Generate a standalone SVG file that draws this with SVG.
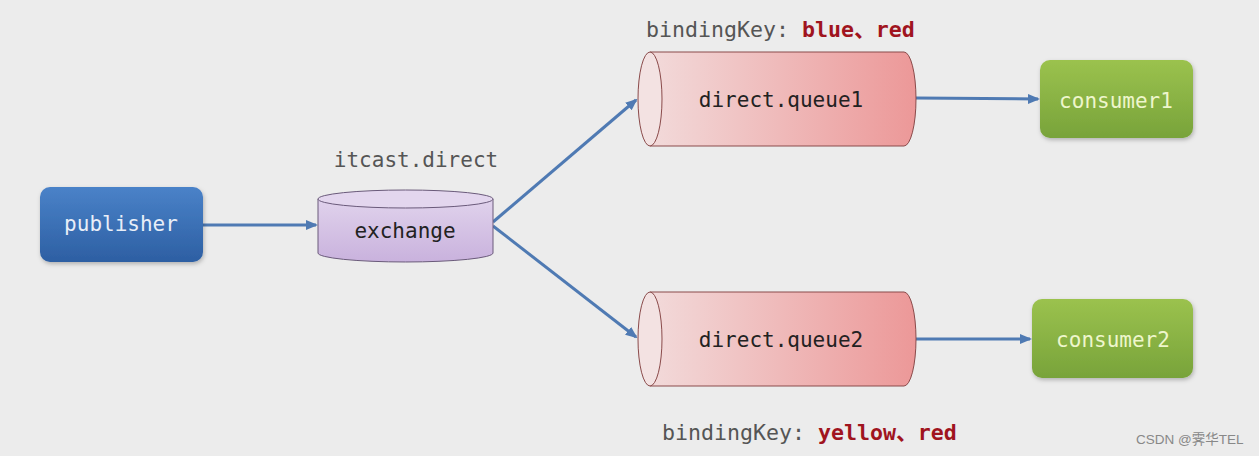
<svg xmlns="http://www.w3.org/2000/svg" width="1259" height="456" viewBox="0 0 1259 456">
<defs>
<linearGradient id="gBlue" x1="0" y1="0" x2="0" y2="1"><stop offset="0" stop-color="#4a82c8"/><stop offset="1" stop-color="#2d5fa3"/></linearGradient>
<linearGradient id="gGreen" x1="0" y1="0" x2="0" y2="1"><stop offset="0" stop-color="#9bc24e"/><stop offset="1" stop-color="#78a33a"/></linearGradient>
<linearGradient id="gPurple" x1="0" y1="0" x2="0" y2="1"><stop offset="0" stop-color="#e0d2ec"/><stop offset="1" stop-color="#c9b2dd"/></linearGradient>
<linearGradient id="gPink" x1="0" y1="0" x2="1" y2="0"><stop offset="0" stop-color="#f2dada"/><stop offset="1" stop-color="#ec9898"/></linearGradient>
<filter id="sh" x="-10%" y="-10%" width="125%" height="130%"><feDropShadow dx="1" dy="2" stdDeviation="2" flood-color="#000" flood-opacity="0.25"/></filter>
<marker id="arr" markerWidth="12" markerHeight="12" refX="10" refY="6" orient="auto" markerUnits="userSpaceOnUse"><path d="M0,1 L12,6 L0,11 Z" fill="#4f7ab3"/></marker>
<style>
.mono{font-family:"DejaVu Sans Mono","Liberation Mono",monospace;font-size:21px}
.bk{font-size:21.6px}
.lbl{fill:#555}
.key{fill:#a0141e;font-weight:bold}
.edge{stroke:#4f7ab3;stroke-width:3;fill:none;marker-end:url(#arr)}
</style>
</defs>
<rect width="1259" height="456" fill="#ececec"/>
<g id="connectors">
<line class="edge" x1="203" y1="225" x2="316" y2="225"/>
<line class="edge" x1="493" y1="222" x2="636" y2="100"/>
<line class="edge" x1="493" y1="226" x2="636" y2="337"/>
<line class="edge" x1="916" y1="98" x2="1038" y2="99"/>
<line class="edge" x1="916" y1="339" x2="1030" y2="339"/>
</g>
<g id="publisher">
<rect x="40" y="187" width="163" height="75" rx="10" fill="url(#gBlue)" filter="url(#sh)"/>
<text class="mono" x="121" y="231" text-anchor="middle" fill="#e8eef8">publisher</text>
</g>
<g id="exchange">
<path d="M318,199 L318,253 A87.5,9 0 0 0 493,253 L493,199 Z" fill="url(#gPurple)" stroke="#6a5a7a" stroke-width="1"/>
<ellipse cx="405.5" cy="199" rx="87.5" ry="9" fill="#e3d6ee" stroke="#6a5a7a" stroke-width="1"/>
<text class="mono" x="405" y="238" text-anchor="middle" fill="#222">exchange</text>
<text class="mono lbl" x="416" y="167" text-anchor="middle">itcast.direct</text>
</g>
<g id="queue1">
<path d="M650,52 L904,52 A12,47 0 0 1 904,146 L650,146 Z" fill="url(#gPink)" stroke="#8a4a4a" stroke-width="1"/>
<ellipse cx="650" cy="99" rx="12" ry="47" fill="#f3e2e2" stroke="#8a4a4a" stroke-width="1"/>
<text class="mono" x="781" y="107" text-anchor="middle" fill="#222">direct.queue1</text>
<text class="mono bk" x="646" y="37"><tspan class="lbl">bindingKey: </tspan><tspan class="key">blue</tspan><tspan class="key" font-family="Noto Sans CJK SC,sans-serif">、</tspan><tspan class="key">red</tspan></text>
</g>
<g id="queue2">
<path d="M650,292 L904,292 A12,47 0 0 1 904,386 L650,386 Z" fill="url(#gPink)" stroke="#8a4a4a" stroke-width="1"/>
<ellipse cx="650" cy="339" rx="12" ry="47" fill="#f3e2e2" stroke="#8a4a4a" stroke-width="1"/>
<text class="mono" x="781" y="347" text-anchor="middle" fill="#222">direct.queue2</text>
<text class="mono bk" x="662" y="440"><tspan class="lbl">bindingKey: </tspan><tspan class="key">yellow</tspan><tspan class="key" font-family="Noto Sans CJK SC,sans-serif">、</tspan><tspan class="key">red</tspan></text>
</g>
<g id="consumer1">
<rect x="1040" y="60" width="153" height="78" rx="10" fill="url(#gGreen)" filter="url(#sh)"/>
<text class="mono" x="1116" y="108" text-anchor="middle" fill="#eef6cc">consumer1</text>
</g>
<g id="consumer2">
<rect x="1032" y="299" width="161" height="79" rx="10" fill="url(#gGreen)" filter="url(#sh)"/>
<text class="mono" x="1113" y="347" text-anchor="middle" fill="#eef6cc">consumer2</text>
</g>
<text x="1136" y="444" font-family="Liberation Sans,Noto Sans CJK SC,sans-serif" font-size="13.5" fill="#888">CSDN @霁华TEL</text>
</svg>
